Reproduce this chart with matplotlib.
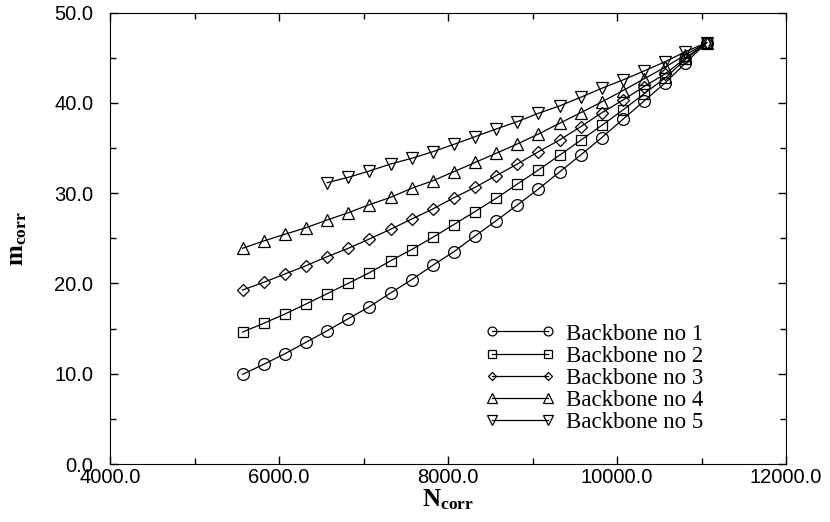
import matplotlib
matplotlib.use('Agg')
import matplotlib.pyplot as plt
from matplotlib.ticker import MultipleLocator, FormatStrFormatter

# N_corr positions (series 5 starts at the fifth one)
n_corr = [5570, 5820, 6070, 6320, 6570, 6820, 7070, 7320, 7570, 7820, 8070,
          8320, 8570, 8820, 9070, 9320, 9570, 9820, 10070, 10320, 10570,
          10810, 11060]

m_bb1 = [9.93, 11.04, 12.21, 13.48, 14.76, 16.09, 17.42, 18.94, 20.41, 22.0,
         23.51, 25.25, 26.94, 28.68, 30.45, 32.34, 34.22, 36.15, 38.17, 40.2,
         42.2, 44.4, 46.66]
m_bb2 = [14.62, 15.58, 16.61, 17.72, 18.86, 20.01, 21.18, 22.5, 23.75, 25.1,
         26.52, 27.96, 29.42, 31.0, 32.56, 34.19, 35.85, 37.5, 39.2, 41.0,
         42.75, 44.8, 46.66]
m_bb3 = [19.27, 20.12, 21.04, 21.96, 22.96, 23.89, 24.92, 25.99, 27.13, 28.24,
         29.49, 30.64, 31.93, 33.22, 34.58, 35.88, 37.35, 38.9, 40.3, 41.8,
         43.2, 44.95, 46.66]
m_bb4 = [23.89, 24.70, 25.44, 26.17, 27.02, 27.83, 28.72, 29.53, 30.53, 31.37,
         32.37, 33.39, 34.41, 35.44, 36.54, 37.73, 38.9, 40.1, 41.35, 42.65,
         43.95, 45.3, 46.66]
m_bb5 = [31.15, 31.75, 32.45, 33.22, 33.85, 34.58, 35.4, 36.25, 37.1, 37.91,
         38.84, 39.65, 40.61, 41.61, 42.53, 43.52, 44.55, 45.66, 46.66]

labels = ['Backbone no 1', 'Backbone no 2', 'Backbone no 3',
          'Backbone no 4', 'Backbone no 5']
markers = ['o', 's', 'D', '^', 'v']
msizes = [8.5, 7, 6, 9, 9]

plt.rcParams['font.family'] = ['Liberation Sans', 'DejaVu Sans']
plt.rcParams['mathtext.fontset'] = 'custom'
plt.rcParams['mathtext.rm'] = 'Liberation Serif'
plt.rcParams['mathtext.bf'] = 'Liberation Serif:bold'

fig = plt.figure(figsize=(8.3, 5.22), dpi=100)
ax = fig.add_axes([110 / 830, 1 - 464 / 522, 676 / 830, 451.5 / 522])

series = [m_bb1, m_bb2, m_bb3, m_bb4, m_bb5]
for i, m in enumerate(series):
    x = n_corr[len(n_corr) - len(m):]
    ax.plot(x, m, color='black', lw=0.9, marker=markers[i], ms=msizes[i],
            mfc='none', mec='black', mew=0.9, label=labels[i])

ax.set_xlim(4000, 12000)
ax.set_ylim(0, 50)
ax.xaxis.set_major_locator(MultipleLocator(2000))
ax.xaxis.set_minor_locator(MultipleLocator(1000))
ax.yaxis.set_major_locator(MultipleLocator(10))
ax.yaxis.set_minor_locator(MultipleLocator(5))
ax.xaxis.set_major_formatter(FormatStrFormatter('%.1f'))
ax.yaxis.set_major_formatter(FormatStrFormatter('%.1f'))
ax.tick_params(which='both', direction='in', top=True, right=True,
               labelsize=14.5, width=1)
ax.tick_params(which='major', length=6)
ax.tick_params(which='minor', length=4)
ax.tick_params(axis='x', pad=3)
ax.tick_params(axis='y', pad=12)

ax.set_xlabel(r'$\mathbf{N_{corr}}$', fontsize=18, labelpad=0)
ax.set_ylabel(r'$\mathbf{m_{corr}}$', fontsize=18, labelpad=18)

ax.legend(loc='upper left', bbox_to_anchor=(474 / 830, 1 - 312 / 522),
          bbox_transform=fig.transFigure, frameon=False, borderpad=0,
          numpoints=2, handlelength=3.05, handletextpad=0.45, labelspacing=0.05,
          markerscale=0.75, prop={'family': 'Liberation Serif', 'size': 16.5})

fig.savefig('out.png', dpi=100)
